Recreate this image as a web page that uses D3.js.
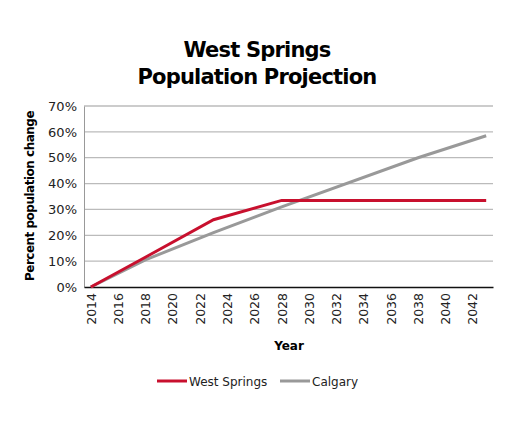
<!DOCTYPE html>
<html><head><meta charset="utf-8">
<script src="https://cdn.jsdelivr.net/npm/d3@7.9.0/dist/d3.min.js"></script>
<style>body{margin:0;background:#fff;font-family:"DejaVu Sans",sans-serif}</style>
</head><body><svg width="509" height="425"></svg>
<script>
// categories on the x axis
const years = d3.range(2014, 2044);
const tickYears = years.filter(y => (y - 2014) % 2 === 0);
const yTicks = [0, 10, 20, 30, 40, 50, 60, 70];
// series values (read at the visible break points)
const westYears = [2014, 2018, 2023, 2028, 2043];
const westValues = [0, 11.5, 26, 33.5, 33.5];
const calgaryYears = [2014, 2018, 2023, 2028, 2038, 2043];
const calgaryValues = [0, 10.5, 21, 31, 50, 58.5];

const svg = d3.select('svg');
const x = d3.scalePoint().domain(years).range([84, 493]).padding(0.5);
const y = d3.scaleLinear().domain([0, 70]).range([287, 106]);

svg.append('text').attr('x', 257).attr('y', 57).attr('text-anchor', 'middle')
  .attr('font-size', 21).attr('font-weight', 'bold').attr('letter-spacing', -0.8).text('West Springs');
svg.append('text').attr('x', 257).attr('y', 84).attr('text-anchor', 'middle')
  .attr('font-size', 21).attr('font-weight', 'bold').attr('letter-spacing', -0.8).text('Population Projection');

// grid
svg.append('g').selectAll('line').data(yTicks.slice(1)).join('line')
  .attr('x1', 84).attr('x2', 493).attr('y1', d => y(d)).attr('y2', d => y(d))
  .attr('stroke', '#bbb').attr('stroke-width', 1.3);

const ya = svg.append('g').attr('transform', 'translate(84,0)')
  .call(d3.axisLeft(y).tickValues(yTicks).tickFormat(d => d + '%').tickSize(0).tickPadding(7));
ya.select('.domain').attr('stroke', '#999');
ya.selectAll('text').attr('font-size', 13).attr('fill', '#222').attr('font-family', 'DejaVu Sans');

const xa = svg.append('g').attr('transform', 'translate(0,287)')
  .call(d3.axisBottom(x).tickValues(tickYears).tickSize(0));
xa.select('.domain').attr('stroke', '#111').attr('stroke-width', 1.5);
xa.selectAll('text').attr('font-size', 12.5).attr('fill', '#222').attr('font-family', 'DejaVu Sans')
  .attr('transform', 'rotate(-90)').attr('text-anchor', 'end').attr('x', -6).attr('y', 0).attr('dy', '0.35em');

svg.append('text').attr('x', 289).attr('y', 350).attr('text-anchor', 'middle')
  .attr('font-size', 12).attr('font-weight', 'bold').text('Year');
svg.append('text').attr('transform', 'translate(34,196) rotate(-90)').attr('text-anchor', 'middle')
  .attr('font-size', 12).attr('font-weight', 'bold').attr('letter-spacing', -0.5).text('Percent population change');

const line = d3.line().x(d => x(d[0])).y(d => y(d[1]));
svg.append('path').datum(d3.zip(calgaryYears, calgaryValues)).attr('d', line)
  .attr('fill', 'none').attr('stroke', '#999').attr('stroke-width', 3);
svg.append('path').datum(d3.zip(westYears, westValues)).attr('d', line)
  .attr('fill', 'none').attr('stroke', '#c8102e').attr('stroke-width', 3);

// legend
const legend = [['West Springs', '#c8102e', 157], ['Calgary', '#999', 280]];
legend.forEach(([name, c, lx]) => {
  svg.append('line').attr('x1', lx).attr('x2', lx + 30).attr('y1', 381).attr('y2', 381).attr('stroke', c).attr('stroke-width', 3);
  svg.append('text').attr('x', lx + 32).attr('y', 386).attr('font-size', 12).attr('fill', '#222').text(name);
});
</script></body></html>
